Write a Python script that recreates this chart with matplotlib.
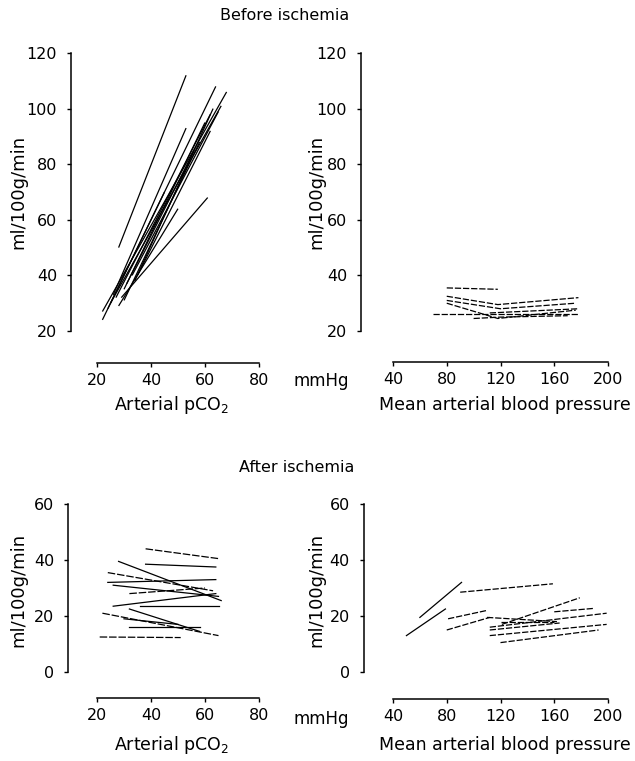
import matplotlib
matplotlib.use("Agg")
import matplotlib.pyplot as plt

W, H = 635, 761

# ---- data: each line is one animal (x values, y values) ----
# Before ischemia, CBF vs arterial pCO2
before_pco2_x = [
    [28, 53], [22, 64], [22, 68], [25, 66], [27, 62], [30, 60], [26, 53],
    [33, 65], [30, 58], [28, 50], [29, 61], [35, 62], [24, 45], [31, 56], [34, 63],
]
before_pco2_y = [
    [50, 112], [24, 108], [27, 106], [30, 101], [32, 98], [35, 95], [33, 93],
    [40, 99], [31, 88], [29, 64], [32, 68], [40, 92], [28, 70], [37, 85], [38, 100],
]
# Before ischemia, CBF vs mean arterial blood pressure
before_map_x = [
    [80, 118], [80, 118, 178], [80, 120, 176], [70, 120, 178],
    [80, 118, 176], [100, 120, 170], [112, 178],
]
before_map_y = [
    [35.5, 35], [32.5, 29.5, 32], [31, 28, 30], [26, 26, 26],
    [30, 24.5, 27.5], [24.5, 25, 25.5], [26.5, 28],
]
# After ischemia, CBF vs arterial pCO2
after_pco2_x = [
    [38, 65], [38, 64], [28, 66], [24, 63], [24, 64], [26, 65], [32, 60],
    [26, 64], [36, 65], [22, 65], [32, 58], [32, 58], [21, 51], [30, 50],
]
after_pco2_y = [
    [44, 40.5], [38.5, 37.5], [39.5, 25.5], [35.5, 29], [32, 33], [31, 27], [28, 30],
    [23.5, 28], [23.5, 23.5], [21, 13], [22.5, 14.5], [16, 16], [12.5, 12.3], [19, 17],
]
# After ischemia, CBF vs mean arterial blood pressure
after_map_x = [
    [60, 91], [50, 79], [90, 159], [81, 110], [80, 112], [110, 162], [121, 179],
    [112, 199], [160, 189], [112, 199], [120, 193], [112, 164], [120, 160],
]
after_map_y = [
    [19.5, 32], [13, 22.5], [28.5, 31.5], [19, 22], [15, 19.5], [19.5, 18], [17, 26.5],
    [16, 21], [21.5, 22.7], [13, 17], [10.5, 15], [15, 17.5], [18, 18],
]

pco2_ticks = [20, 40, 60, 80]
map_ticks = [40, 80, 120, 160, 200]
before_yticks = [20, 40, 60, 80, 100, 120]
after_yticks = [0, 20, 40, 60]

ylabel = "ml/100g/min"
pco2_label = "Arterial pCO$_2$"
map_label = "Mean arterial blood pressure"

PX = 0.72  # points per pixel at 100 dpi
plt.rcParams['font.family'] = ['DejaVu Sans']

fig = plt.figure(figsize=(W / 100, H / 100), dpi=100)


def make_ax(x0, x1, ytop, ybot, xlim, ylim, xticks, yticks, left_off, bot_off):
    ax = fig.add_axes([x0 / W, 1 - ybot / H, (x1 - x0) / W, (ybot - ytop) / H])
    ax.set_xlim(*xlim)
    ax.set_ylim(*ylim)
    for s in ('top', 'right'):
        ax.spines[s].set_visible(False)
    ax.spines['left'].set_position(('outward', left_off * PX))
    ax.spines['bottom'].set_position(('outward', bot_off * PX))
    for s in ('left', 'bottom'):
        ax.spines[s].set_linewidth(1.1)
    ax.set_xticks(xticks)
    ax.set_yticks(yticks)
    ax.tick_params(direction='out', length=4 * PX, width=1.0, labelsize=11.5)
    ax.tick_params(axis='y', pad=10 * PX)
    ax.tick_params(axis='x', pad=6 * PX)
    ax.patch.set_visible(False)
    return ax


ax1 = make_ax(97, 259, 53, 331, (20, 80), (20, 120), pco2_ticks, before_yticks, 26, 32)
ax2 = make_ax(393, 608, 53, 331, (40, 200), (20, 120), map_ticks, before_yticks, 32, 31)
ax3 = make_ax(97, 259, 504, 672, (20, 80), (0, 60), pco2_ticks, after_yticks, 29, 26)
ax4 = make_ax(393, 608, 504, 672, (40, 200), (0, 60), map_ticks, after_yticks, 29, 27)

for xs, ys in zip(before_pco2_x, before_pco2_y):
    ax1.plot(xs, ys, color='black', lw=0.9, solid_capstyle='butt')
for i, (xs, ys) in enumerate(zip(before_map_x, before_map_y)):
    ax2.plot(xs, ys, color='black', lw=0.9, ls=(0, (5, 1.5)))
for i, (xs, ys) in enumerate(zip(after_pco2_x, after_pco2_y)):
    ax3.plot(xs, ys, color='black', lw=0.9, ls='-' if i % 3 else (0, (6, 1.5)))
for i, (xs, ys) in enumerate(zip(after_map_x, after_map_y)):
    ax4.plot(xs, ys, color='black', lw=0.9, ls='-' if i < 2 else (0, (5, 1.5)))


def ftext(x, y, s, size, **kw):
    fig.text(x / W, 1 - y / H, s, fontsize=size, color='black', **kw)


ftext(285, 15, "Before ischemia", 11.5, ha='center', va='center')
ftext(297, 468, "After ischemia", 11.5, ha='center', va='center')
for yy in (381, 719):
    ftext(321, yy, "mmHg", 12, ha='center', va='center')
for yy in (405, 745):
    ftext(172, yy, pco2_label, 12.5, ha='center', va='center')
    ftext(505, yy, map_label, 12.5, ha='center', va='center')
for xx, yy in ((18, 192), (316, 192), (18, 590), (316, 590)):
    ftext(xx, yy, ylabel, 13, ha='center', va='center', rotation=90)

fig.savefig("out.png", dpi=100, facecolor='white')
